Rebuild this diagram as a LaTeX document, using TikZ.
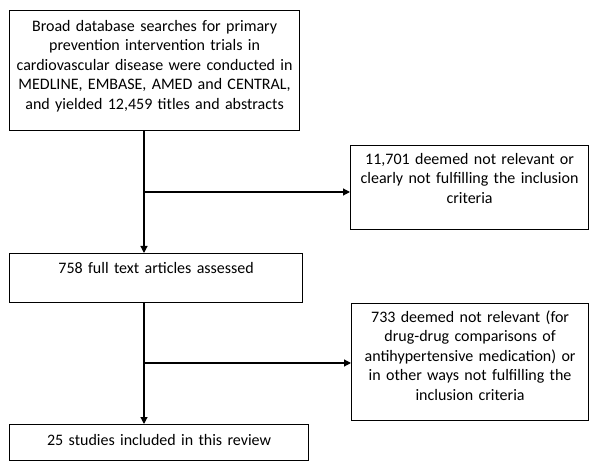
\documentclass[tikz,border=0pt]{standalone}
\usepackage{fontspec}
\setmainfont{Carlito}
\usetikzlibrary{arrows.meta}
\tikzset{
  stage/.style={draw, line width=1.2pt, inner sep=0pt, align=center,
    anchor=north west, font=\fontsize{16}{19.4}\selectfont},
  flow/.style={line width=1.2pt, -{Triangle[length=7pt,width=7pt]}}
}
\begin{document}
\begin{tikzpicture}[x=1pt,y=-1pt]
  \useasboundingbox (0,0) rectangle (600,470);
  \node[stage, text width=290pt, text height=21pt, text depth=99pt] (search) at (9,10)
    {Broad database searches for primary\\ prevention intervention trials in\\
     cardiovascular disease were conducted in\\ MEDLINE, EMBASE, AMED and CENTRAL,\\
     and yielded 12,459 titles and abstracts};
  \node[stage, text width=238pt, text height=19pt, text depth=65pt] (excl1) at (350,145)
    {11,701 deemed not relevant or\\ clearly not fulfilling the inclusion\\ criteria};
  \node[stage, text width=293pt, text height=20pt, text depth=29pt] (assessed) at (9,253)
    {758 full text articles assessed};
  \node[stage, text width=237pt, text height=19pt, text depth=98pt] (excl2) at (351,303)
    {733 deemed not relevant (for\\ drug-drug comparisons of\\
     antihypertensive medication) or\\ in other ways not fulfilling the\\ inclusion criteria};
  \node[stage, text width=299pt, text height=21pt, text depth=15pt] (included) at (9,424)
    {25 studies included in this review};
  % forks on the main line
  \coordinate (fork1) at (144,192);
  \coordinate (fork2) at (144,363);
  \draw[flow] (fork1 |- search.south) -- (fork1 |- assessed.north);
  \draw[flow] (fork1) -- (fork1 -| excl1.west);
  \draw[flow] (fork2 |- assessed.south) -- (fork2 |- included.north);
  \draw[flow] (fork2) -- (fork2 -| excl2.west);
\end{tikzpicture}
\end{document}
